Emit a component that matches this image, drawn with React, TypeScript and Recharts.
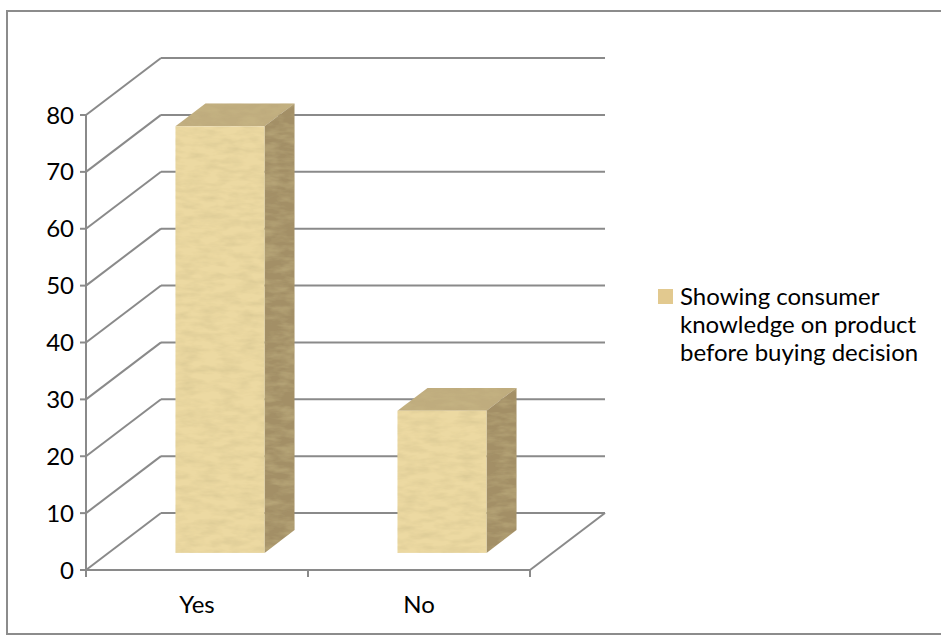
import React from "react"
import { BarChart, Bar, XAxis, YAxis, CartesianGrid, Legend } from "recharts"

const categories = ["Yes", "No"]
const responseShare = [75, 25]
const yTicks = [0, 10, 20, 30, 40, 50, 60, 70, 80]
const seriesName = "Showing consumer\nknowledge on product\nbefore buying decision"

const chartData = categories.map((label, i) => ({ label, value: responseShare[i] }))

// depth of the 3D floor / walls, and where each box sits inside it
const DEPTH_X = 75
const DEPTH_Y = 57
const BOX_FRONT = 0.3
const BOX_BACK = 0.7

const LINE = "#8a8a8a"
const FRONT = "#ecd9a2"
const TOP = "#bfac7e"
const SIDE = "#a38f66"

const FONT = "Lato, 'Open Sans', sans-serif"
const FONT_SIZE = 24

function GridLine(props: any) {
  const { x1, x2, y1, index, key } = props
  const bx = x1 + DEPTH_X
  const by = y1 - DEPTH_Y
  const isFloor = index === 0
  const mid = (x1 + x2) / 2
  return (
    <g key={key}>
      <line x1={x1} y1={y1} x2={bx} y2={by} stroke={LINE} strokeWidth={2} />
      <line x1={bx} y1={by} x2={x2 + DEPTH_X} y2={by} stroke={LINE} strokeWidth={2} />
      {isFloor && (
        <>
          <line x1={x2} y1={y1} x2={x2 + DEPTH_X} y2={by} stroke={LINE} strokeWidth={2} />
          {[x1, mid, x2].map((tx) => (
            <line key={tx} x1={tx} y1={y1} x2={tx} y2={y1 + 7} stroke={LINE} strokeWidth={2} />
          ))}
        </>
      )}
    </g>
  )
}

function Box(props: any) {
  const { x, y, width, height, index } = props
  const fx = x + BOX_FRONT * DEPTH_X
  const fy = y - BOX_FRONT * DEPTH_Y
  const dx = (BOX_BACK - BOX_FRONT) * DEPTH_X
  const dy = (BOX_BACK - BOX_FRONT) * DEPTH_Y
  const id = `paper-${index}`
  return (
    <g>
      <defs>
        <filter id={id} x="0" y="0" width="100%" height="100%">
          <feTurbulence type="fractalNoise" baseFrequency="0.05 0.15" numOctaves={3} seed={index + 3} result="n" />
          <feColorMatrix
            in="n"
            type="matrix"
            values="0 0 0 0 0.6  0 0 0 0 0.5  0 0 0 0 0.25  0.9 0 0 0 -0.33"
            result="tint"
          />
          <feComposite in="tint" in2="SourceGraphic" operator="in" result="grain" />
          <feMerge>
            <feMergeNode in="SourceGraphic" />
            <feMergeNode in="grain" />
          </feMerge>
        </filter>
      </defs>
      <polygon
        points={`${fx},${fy} ${fx + dx},${fy - dy} ${fx + width + dx},${fy - dy} ${fx + width},${fy}`}
        fill={TOP}
        filter={`url(#${id})`}
      />
      <polygon
        points={`${fx + width},${fy} ${fx + width + dx},${fy - dy} ${fx + width + dx},${fy + height - dy} ${fx + width},${fy + height}`}
        fill={SIDE}
        filter={`url(#${id})`}
      />
      <rect x={fx} y={fy} width={width} height={height} fill={FRONT} filter={`url(#${id})`} />
    </g>
  )
}

function LegendBox() {
  return (
    <div style={{ display: "flex", alignItems: "flex-start", fontFamily: FONT, fontSize: FONT_SIZE, color: "#000" }}>
      <div style={{ width: 15, height: 15, background: "#e2c98f", marginTop: 7, marginRight: 7, flex: "none" }} />
      <div style={{ whiteSpace: "pre-line", lineHeight: "28px" }}>{seriesName}</div>
    </div>
  )
}

export default function App() {
  return (
    <div style={{ position: "absolute", left: 0, top: 0, width: 941, height: 644, overflow: "hidden", background: "#fff" }}>
      <div
        style={{
          position: "absolute",
          left: 6,
          top: 10,
          width: 960,
          height: 625,
          border: "2px solid #8c8c8c",
          boxSizing: "border-box",
        }}
      />
      <BarChart
        width={941}
        height={644}
        data={chartData}
        margin={{ top: 115, right: 411, bottom: 44, left: 26 }}
        barSize={89}
        style={{ position: "absolute", left: 0, top: 0 }}
      >
        <CartesianGrid horizontal={GridLine} vertical={false} />
        <XAxis
          dataKey="label"
          axisLine={{ stroke: LINE, strokeWidth: 2 }}
          tickLine={false}
          tickMargin={20}
          tick={{ fill: "#000", fontSize: FONT_SIZE, fontFamily: FONT }}
        />
        <YAxis
          width={60}
          domain={[0, 80]}
          ticks={yTicks}
          interval={0}
          axisLine={{ stroke: LINE, strokeWidth: 2 }}
          tickLine={{ stroke: LINE, strokeWidth: 2 }}
          tickSize={6}
          tickMargin={6}
          tick={{ fill: "#000", fontSize: FONT_SIZE, fontFamily: FONT }}
        />
        <Legend
          layout="horizontal"
          verticalAlign="middle"
          align="center"
          content={LegendBox}
          wrapperStyle={{ position: "absolute", left: 658, top: 282, width: 283 }}
        />
        <Bar dataKey="value" name={seriesName} shape={Box} isAnimationActive={false} />
      </BarChart>
    </div>
  )
}
